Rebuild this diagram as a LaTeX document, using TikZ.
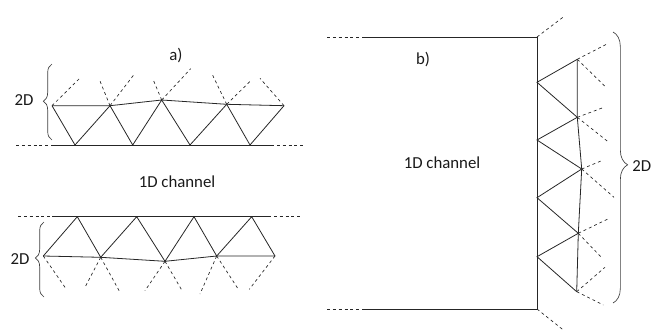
\documentclass[tikz,border=0pt]{standalone}
\usepackage{fontspec}
\setmainfont{Carlito}
\usepackage{tikz}
\usetikzlibrary{decorations.pathreplacing}

\tikzset{
    bond/.style={black!85, line width=0.6pt},
    danglebond/.style={black!85, line width=0.5pt, dash pattern=on 2.2pt off 2.2pt},
    sidebrace/.style={black!75, line width=0.5pt, decorate, decoration={brace, amplitude=#1}},
    sidebrace/.default=6.5pt,
    tag/.style={font=\fontsize{12.6}{14}\selectfont, text=black!90, inner sep=0pt},
}

\begin{document}
\begin{tikzpicture}[x=0.75pt, y=-0.75pt]
    \useasboundingbox (0,0) rectangle (652,332);

    % Panel a, upper chain
    \foreach \name/\px/\py in {au1/52/105.7, au2/110/105.7, au3/161.7/100, au4/226.7/104.3, au5/284/105.7,
        ab1/75/145, ab2/132.7/145, ab3/190/145, ab4/250/145,
        asl/52/145, asr/271/145, adl/16/145, adr/303/145}
        \coordinate (\name) at (\px,\py);
    \draw[bond] (au1) -- (au2) -- (au3) -- (au4) -- (au5);
    \draw[bond] (au1) -- (ab1) -- (au2) -- (ab2) -- (au3) -- (ab3) -- (au4) -- (ab4) -- (au5);
    \draw[bond] (asl) -- (asr);
    \draw[danglebond] (adl) -- (asl) (asr) -- (adr);

    % Free ends on top
    \foreach \from/\tox/\toy in {au1/80.7/77.3, au2/99.3/79.3, au2/135/73.3, au3/153.3/80, au3/190.7/68.7,
        au4/211.7/73.3, au4/250.7/80.7, au5/260/78.3}
        \draw[danglebond] (\from) -- (\tox,\toy);

    % Panel a, lower chain
    \foreach \name/\px/\py in {cu1/43.3/256, cu2/100.7/257.3, cu3/165/261.3, cu4/216.7/256, cu5/275/256,
        ct1/77.3/216.7, ct2/136.7/216.7, ct3/194/216.7, ct4/251.7/216.7,
        csl/52/216.7, csr/268/216.7, cdl/18/216.7, cdr/302/216.7}
        \coordinate (\name) at (\px,\py);
    \draw[bond] (cu1) -- (cu2) -- (cu3) -- (cu4) -- (cu5);
    \draw[bond] (cu1) -- (ct1) -- (cu2) -- (ct2) -- (cu3) -- (ct3) -- (cu4) -- (ct4) -- (cu5);
    \draw[bond] (csl) -- (csr);
    \draw[danglebond] (cdl) -- (csl) (csr) -- (cdr);

    % Free ends below
    \foreach \from/\tox/\toy in {cu1/65.7/288.3, cu2/85/287.3, cu2/120/292.3, cu3/145/290.7, cu3/182.7/291.7,
        cu4/200/294, cu4/237.7/288.3, cu5/249.3/289.3}
        \draw[danglebond] (\from) -- (\tox,\toy);

    % Panel b, channel wall
    \foreach \name/\px/\py in {wt/537/37, wb/537/309, wtl/363/37, wbl/363/309, wtd/327/37, wbd/327/309,
        wv1/537/82.3, wv2/537/140, wv3/537/197.7, wv4/537/256.7,
        rv1/577.3/59.3, rv2/577.3/117.3, rv3/581.7/169, rv4/578.3/233.3, rv5/576.7/291.7}
        \coordinate (\name) at (\px,\py);
    \draw[bond] (wtl) -- (wt) -- (wb) -- (wbl);
    \draw[danglebond] (wtd) -- (wtl) (wbd) -- (wbl);
    \draw[bond] (rv1) -- (rv2) -- (rv3) -- (rv4) -- (rv5);
    \draw[bond] (rv1) -- (wv1) -- (rv2) -- (wv2) -- (rv3) -- (wv3) -- (rv4) -- (wv4) -- (rv5);

    % Free ends to the right
    \foreach \from/\tox/\toy in {wt/565/15.7, wb/563.3/330, rv1/608.3/43.3, rv1/606/87.3, rv2/604/107.3, rv2/609.3/142.7,
        rv3/603.3/160, rv3/614/197.3, rv4/609.3/218.3, rv4/601.7/257.7, rv5/605/267.3, rv5/603.3/305}
        \draw[danglebond] (\from) -- (\tox,\toy);

    % Braces
    \draw[sidebrace, decoration={aspect=0.51}] (52,140) -- (52,64);
    \draw[sidebrace, decoration={aspect=0.52}] (44,297) -- (44,222);
    \draw[sidebrace=11pt, decoration={aspect=0.49}] (613,32) -- (613,303);

    % Labels
    \node[tag] (lblA) at (176,56) {a)};
    \node[tag] (lblB) at (423,60) {b)};
    \node[tag] (chanA) at (177,182) {1D channel};
    \node[tag] (chanB) at (442,163) {1D channel};
    \node[tag] (twoDup) at (24,100) {2D};
    \node[tag] (twoDlow) at (20,259) {2D};
    \node[tag, anchor=east] (twoDright) at (651.5,166) {2D};
\end{tikzpicture}
\end{document}
